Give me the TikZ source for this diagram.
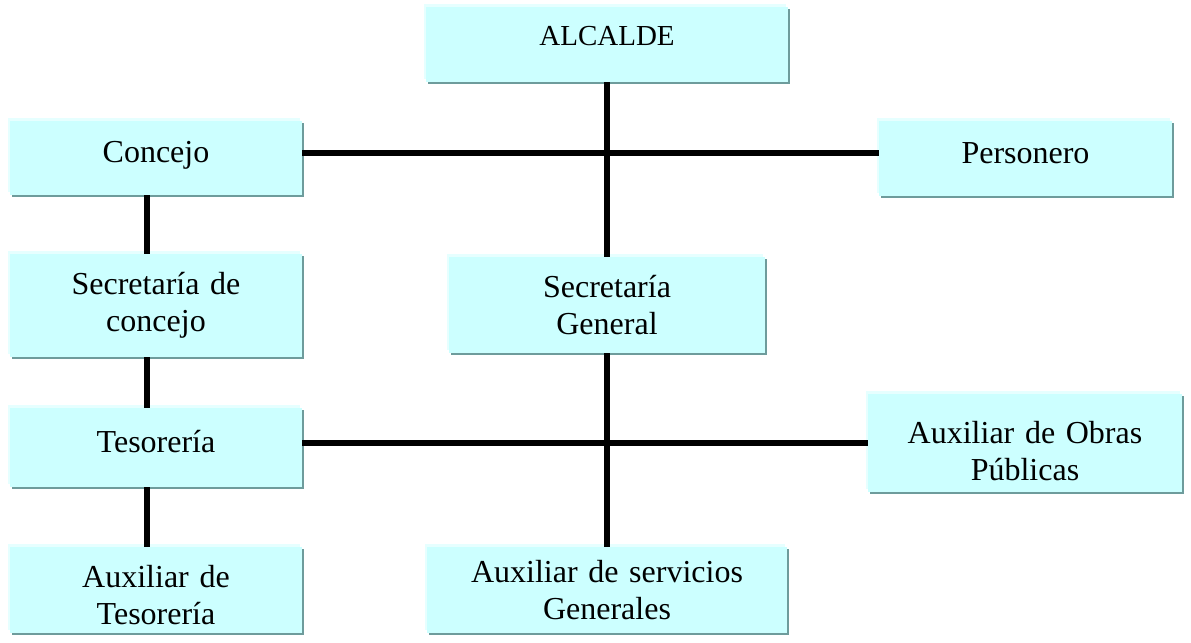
\documentclass[tikz,border=0pt]{standalone}
\usepackage{fontspec}
\setmainfont{Liberation Serif}
\usetikzlibrary{positioning,shadows}
\definecolor{boxcyan}{HTML}{CCFFFF}
\definecolor{boxlight}{HTML}{E6FFFF}
\definecolor{boxshade}{HTML}{6E9C9C}

\begin{document}
\begin{tikzpicture}[x=1bp, y=-1bp,
    unit/.style={fill=boxcyan, inner sep=0pt, align=center,
      minimum width=#1, text width=#1-12bp, text height=30bp,
      font=\fontsize{32bp}{37bp}\selectfont,
      general shadow={fill=boxlight, shadow xshift=-2bp, shadow yshift=3bp},
      general shadow={fill=boxshade, shadow xshift=2bp, shadow yshift=-2bp}},
    link/.style={line width=6bp, black}]
\useasboundingbox (0,0) rectangle (1191,643);

\node[unit=362bp, minimum height=75bp, text depth=27bp,
      font=\fontsize{29bp}{34bp}\selectfont] (alcalde) at (607,44.5) {ALCALDE};
\node[unit=292bp, minimum height=74bp, text depth=20bp] (concejo) at (156,158) {Concejo};
\node[unit=293bp, minimum height=75bp, text depth=19bp] (personero) at (1025.5,158.5) {Personero};
\node[unit=292bp, minimum height=103bp, text depth=52bp] (secconcejo) at (156,305.5) {Secretaría de\\concejo};
\node[unit=316bp, minimum height=96bp, text depth=45bp] (secgeneral) at (607,305) {Secretaría\\General};
\node[unit=292bp, minimum height=79bp, text depth=21bp] (tesoreria) at (156,447.5) {Tesorería};
\node[unit=314bp, minimum height=98bp, text depth=30bp] (obras) at (1025,443) {Auxiliar de Obras\\Públicas};
\node[unit=292bp, minimum height=86bp, text depth=35bp] (auxtes) at (156,590) {Auxiliar de\\Tesorería};
\node[unit=360bp, minimum height=86bp, text depth=46bp] (auxserv) at (607,590) {Auxiliar de servicios\\Generales};

% links
\draw[link] (alcalde) -- (secgeneral);
\draw[link] (secgeneral) -- (auxserv);
\draw[link] ([yshift=5bp]concejo.east) -- ([yshift=5bp]concejo.east -| personero.west);
\draw[link] (tesoreria.east |- obras.west) -- (obras.west);
\foreach \a/\b in {concejo/secconcejo, secconcejo/tesoreria, tesoreria/auxtes}
  \draw[link] ([xshift=-9bp]\a.south) -- ([xshift=-9bp]\b.north);

\end{tikzpicture}
\end{document}
